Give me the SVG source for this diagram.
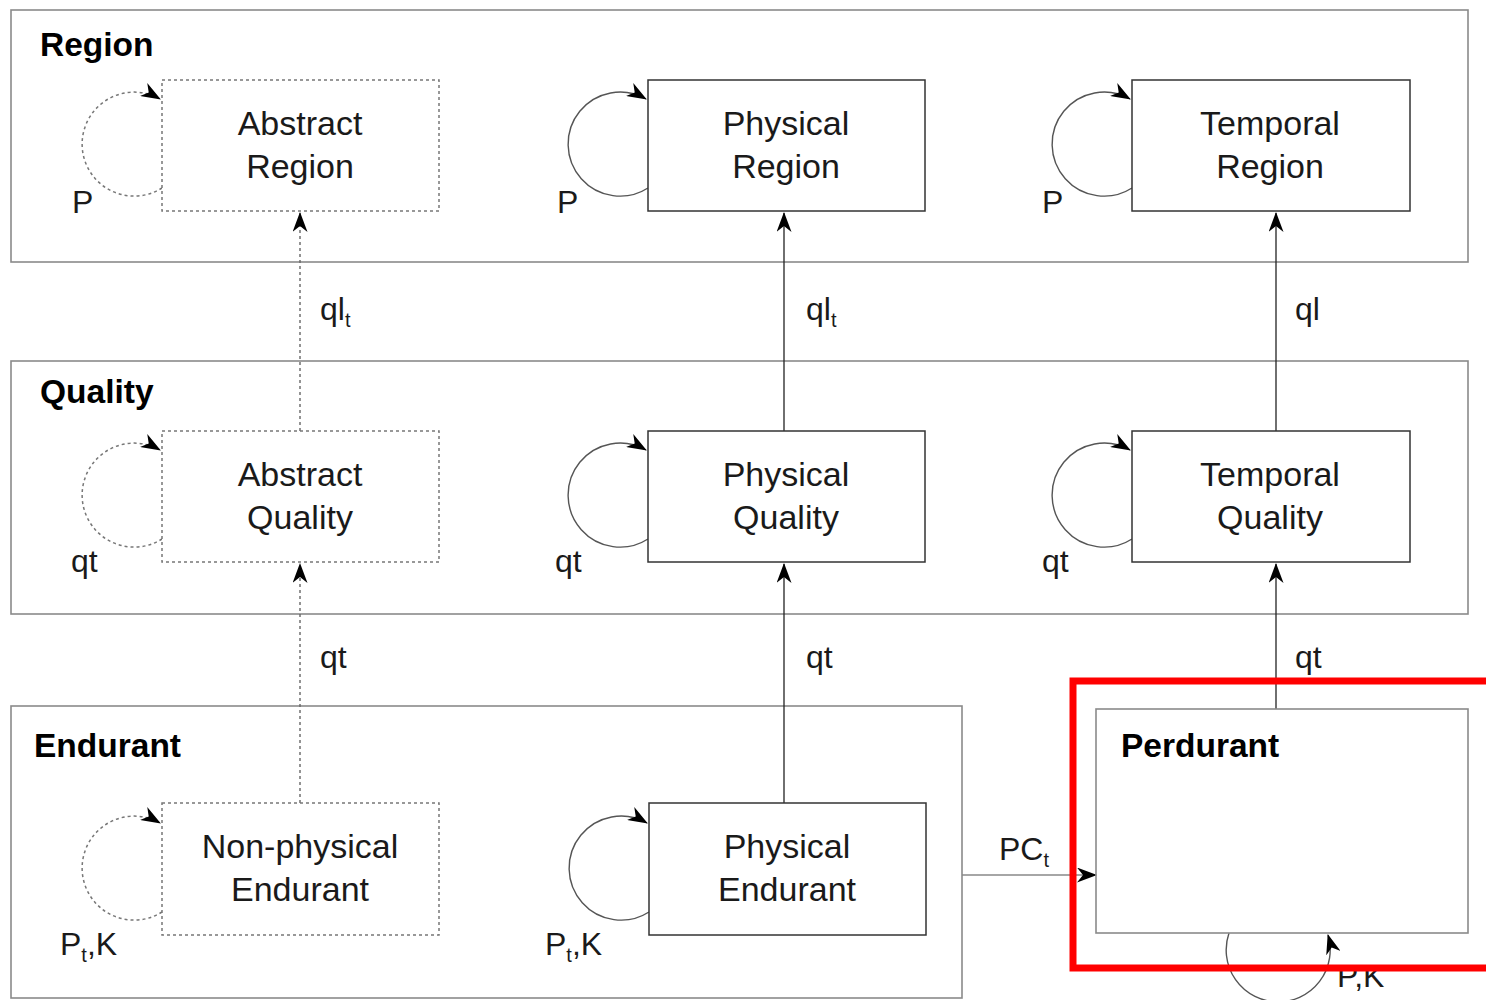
<svg xmlns="http://www.w3.org/2000/svg" width="1486" height="1000" viewBox="0 0 1486 1000">
<style>
text{font-family:"Liberation Sans",Arial,sans-serif;fill:#1a1a1a}
.lbl{font-size:34px;text-anchor:middle}
.title{font-size:33.5px;font-weight:bold;fill:#000}
.small{font-size:32px}
.sub{font-size:20px}
.cont{fill:none;stroke:#8a8a8a;stroke-width:1.6}
.node{fill:#fff;stroke:#333;stroke-width:1.5}
.dnode{fill:#fff;stroke:#777;stroke-width:1.5;stroke-dasharray:3 3}
.edge{fill:none;stroke:#222;stroke-width:1.3}
.dedge{fill:none;stroke:#666;stroke-width:1.4;stroke-dasharray:3 3}
.loop{fill:none;stroke:#555;stroke-width:1.4}
.dloop{fill:none;stroke:#777;stroke-width:1.5;stroke-dasharray:3 3}
</style>
<defs>
<marker id="ah" viewBox="0 0 20 15" refX="19" refY="7.5" markerWidth="20" markerHeight="15" markerUnits="userSpaceOnUse" orient="auto">
<path d="M0,0 L20,7.5 L0,15 L6,7.5 z" fill="#000"/>
</marker>
</defs>
<rect width="1486" height="1000" fill="#fff"/>
<g id="containers">
<g id="region-container"><rect class="cont" x="11" y="10" width="1457" height="252"/><text class="title" x="40" y="56">Region</text></g>
<g id="quality-container"><rect class="cont" x="11" y="361" width="1457" height="253"/><text class="title" x="40" y="403">Quality</text></g>
<g id="endurant-container"><rect class="cont" x="11" y="706" width="951" height="292"/><text class="title" x="34" y="757">Endurant</text></g>
</g>
<g id="connectors">
<path class="dedge" d="M300,431 V213" marker-end="url(#ah)"/>
<path class="dedge" d="M300,803 V564" marker-end="url(#ah)"/>
<path class="edge" d="M784,431 V213" marker-end="url(#ah)"/>
<path class="edge" d="M784,803 V564" marker-end="url(#ah)"/>
<path class="edge" d="M1276,431 V213" marker-end="url(#ah)"/>
<path class="edge" d="M1276,709 V564" marker-end="url(#ah)"/>
<path class="loop" d="M962,875 H1096" marker-end="url(#ah)" style="stroke:#888"/>
<text class="small" x="320" y="320">ql<tspan class="sub" dy="7">t</tspan></text>
<text class="small" x="806" y="320">ql<tspan class="sub" dy="7">t</tspan></text>
<text class="small" x="1295" y="320">ql</text>
<text class="small" x="320" y="668">qt</text>
<text class="small" x="806" y="668">qt</text>
<text class="small" x="1295" y="668">qt</text>
<text class="small" x="999" y="860">PC<tspan class="sub" dy="7">t</tspan></text>
<path class="dloop" d="M162,188 A52,52 0 1 1 160,99" marker-end="url(#ah)"/>
<path class="loop" d="M648,188 A52,52 0 1 1 646,99" marker-end="url(#ah)"/>
<path class="loop" d="M1132,188 A52,52 0 1 1 1130,99" marker-end="url(#ah)"/>
<path class="dloop" d="M162,539 A52,52 0 1 1 160,450" marker-end="url(#ah)"/>
<path class="loop" d="M648,539 A52,52 0 1 1 646,450" marker-end="url(#ah)"/>
<path class="loop" d="M1132,539 A52,52 0 1 1 1130,450" marker-end="url(#ah)"/>
<path class="dloop" d="M162,912 A52,52 0 1 1 160,823" marker-end="url(#ah)"/>
<path class="loop" d="M649,912 A52,52 0 1 1 647,823" marker-end="url(#ah)"/>
<path class="loop" d="M1229,933 A52,52 0 1 0 1328,935" marker-end="url(#ah)"/>
<text class="small" x="72" y="213">P</text>
<text class="small" x="557" y="213">P</text>
<text class="small" x="1042" y="213">P</text>
<text class="small" x="71" y="572">qt</text>
<text class="small" x="555" y="572">qt</text>
<text class="small" x="1042" y="572">qt</text>
<text class="small" x="60" y="955">P<tspan class="sub" dy="7">t</tspan><tspan dy="-7">,K</tspan></text>
<text class="small" x="545" y="955">P<tspan class="sub" dy="7">t</tspan><tspan dy="-7">,K</tspan></text>
<text class="small" x="1337" y="987">P,K</text>
</g>
<g id="abstract-region"><rect class="dnode" x="162" y="80" width="277" height="131"/><text class="lbl" x="300" y="135">Abstract</text><text class="lbl" x="300" y="178">Region</text></g>
<g id="physical-region"><rect class="node" x="648" y="80" width="277" height="131"/><text class="lbl" x="786" y="135">Physical</text><text class="lbl" x="786" y="178">Region</text></g>
<g id="temporal-region"><rect class="node" x="1132" y="80" width="278" height="131"/><text class="lbl" x="1270" y="135">Temporal</text><text class="lbl" x="1270" y="178">Region</text></g>
<g id="abstract-quality"><rect class="dnode" x="162" y="431" width="277" height="131"/><text class="lbl" x="300" y="486">Abstract</text><text class="lbl" x="300" y="529">Quality</text></g>
<g id="physical-quality"><rect class="node" x="648" y="431" width="277" height="131"/><text class="lbl" x="786" y="486">Physical</text><text class="lbl" x="786" y="529">Quality</text></g>
<g id="temporal-quality"><rect class="node" x="1132" y="431" width="278" height="131"/><text class="lbl" x="1270" y="486">Temporal</text><text class="lbl" x="1270" y="529">Quality</text></g>
<g id="nonphysical-endurant"><rect class="dnode" x="162" y="803" width="277" height="132"/><text class="lbl" x="300" y="858">Non-physical</text><text class="lbl" x="300" y="901">Endurant</text></g>
<g id="physical-endurant"><rect class="node" x="649" y="803" width="277" height="132"/><text class="lbl" x="787" y="858">Physical</text><text class="lbl" x="787" y="901">Endurant</text></g>
<g id="perdurant"><rect class="cont" x="1096" y="709" width="372" height="224"/><text class="title" x="1121" y="757">Perdurant</text></g>
<g id="highlight"><rect x="1073" y="681" width="600" height="287" fill="none" stroke="#f00" stroke-width="7"/></g>
</svg>
